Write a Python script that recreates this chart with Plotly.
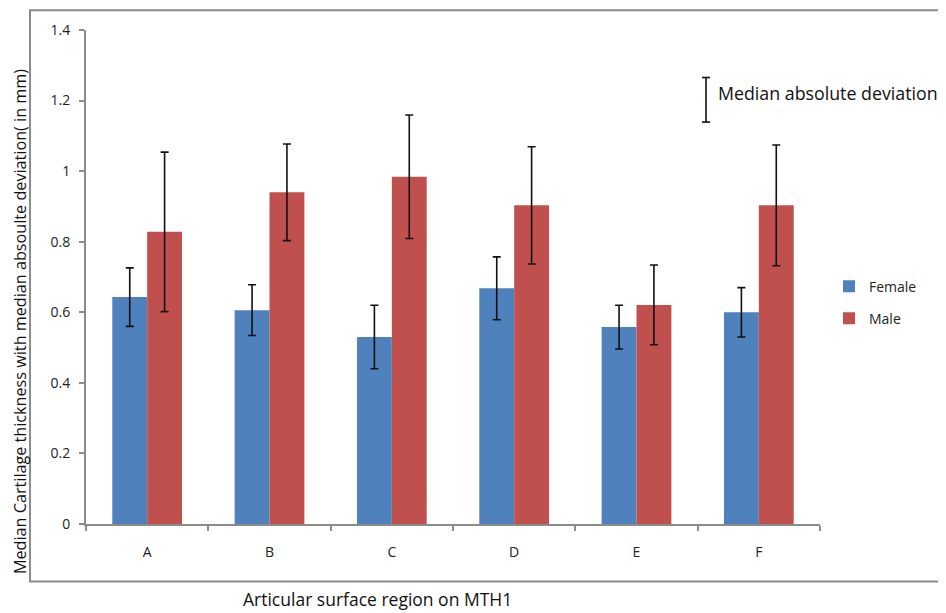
import plotly.graph_objects as go

categories = ["A", "B", "C", "D", "E", "F"]
female = [0.643, 0.606, 0.530, 0.668, 0.558, 0.600]
female_mad = [0.083, 0.072, 0.090, 0.089, 0.062, 0.070]
male = [0.828, 0.940, 0.984, 0.903, 0.621, 0.903]
male_mad = [0.226, 0.137, 0.175, 0.166, 0.113, 0.171]

FONT = "Open Sans"
# page body has an 8px margin; plot area in page pixels: x 86..820, y 25..524
PX0, PX1, PY0, PY1 = 86, 820, 25, 524
def px(x):
    return (x - PX0) / (PX1 - PX0)
def py(y):
    return (PY1 - y) / (PY1 - PY0)

fig = go.Figure()
fig.add_trace(go.Bar(
    x=categories, y=female, name="Female", legendgroup="f",
    marker=dict(color="#4F81BD", line=dict(width=0)),
    error_y=dict(type="data", array=female_mad, visible=True,
                 color="#111111", thickness=1.6, width=4),
))
fig.add_trace(go.Bar(
    x=categories, y=male, name="Male", legendgroup="m",
    marker=dict(color="#C0504D", line=dict(width=0)),
    error_y=dict(type="data", array=male_mad, visible=True,
                 color="#111111", thickness=1.6, width=4),
))

# outer border
fig.add_shape(type="rect", xref="paper", yref="paper",
              x0=px(30), x1=px(960), y0=py(582), y1=py(5),
              line=dict(color="#8c8c8c", width=2), layer="below")

# error-bar key
xk = px(706)
fig.add_shape(type="line", xref="paper", yref="paper", x0=xk, x1=xk,
              y0=py(118), y1=py(73), line=dict(color="#111111", width=1.6))
for yy in (py(118), py(73)):
    fig.add_shape(type="line", xref="paper", yref="paper", x0=xk - 0.0055,
                  x1=xk + 0.0055, y0=yy, y1=yy,
                  line=dict(color="#111111", width=1.6))

fig.add_annotation(text="Median absolute deviation", xref="paper", yref="paper",
                   x=px(716), y=py(89), xanchor="left",
                   yanchor="middle", showarrow=False,
                   font=dict(family=FONT, size=17.8, color="#111111"))

fig.add_annotation(text="Median Cartilage thickness with median absoulte deviation( in mm)",
                   xref="paper", yref="paper", x=px(20), y=py(320),
                   textangle=-90, xanchor="center", yanchor="middle", showarrow=False,
                   font=dict(family=FONT, size=16.2, color="#111111"))

fig.add_annotation(text="Articular surface region on MTH1", xref="paper", yref="paper",
                   x=px(377), y=py(600), xanchor="center",
                   yanchor="middle", showarrow=False,
                   font=dict(family=FONT, size=17.5, color="#111111"))

fig.update_layout(
    width=938, height=605,
    margin=dict(l=78, r=126, t=17, b=89),
    paper_bgcolor="white", plot_bgcolor="white",
    barmode="group", bargap=0.43, bargroupgap=0,
    font=dict(family=FONT, size=14, color="#222222"),
    showlegend=True,
    legend=dict(x=px(829), y=py(268), xanchor="left", yanchor="top",
                font=dict(family=FONT, size=14, color="#222222"),
                tracegroupgap=11, itemwidth=30),
    xaxis=dict(showline=True, linecolor="#8c8c8c", linewidth=2,
               ticks="outside", ticklen=5, tickcolor="#8c8c8c", tickwidth=1.5,
               tickson="boundaries", showgrid=False, ticklabelstandoff=14,
               tickfont=dict(family=FONT, size=14, color="#222222")),
    yaxis=dict(range=[0, 1.4], dtick=0.2, showline=True, linecolor="#8c8c8c",
               linewidth=2, ticks="outside", ticklen=5, tickcolor="#8c8c8c",
               tickwidth=1.5, showgrid=False, zeroline=False, ticklabelstandoff=6,
               tickfont=dict(family=FONT, size=14, color="#222222")),
)

fig.write_html("out.html")
